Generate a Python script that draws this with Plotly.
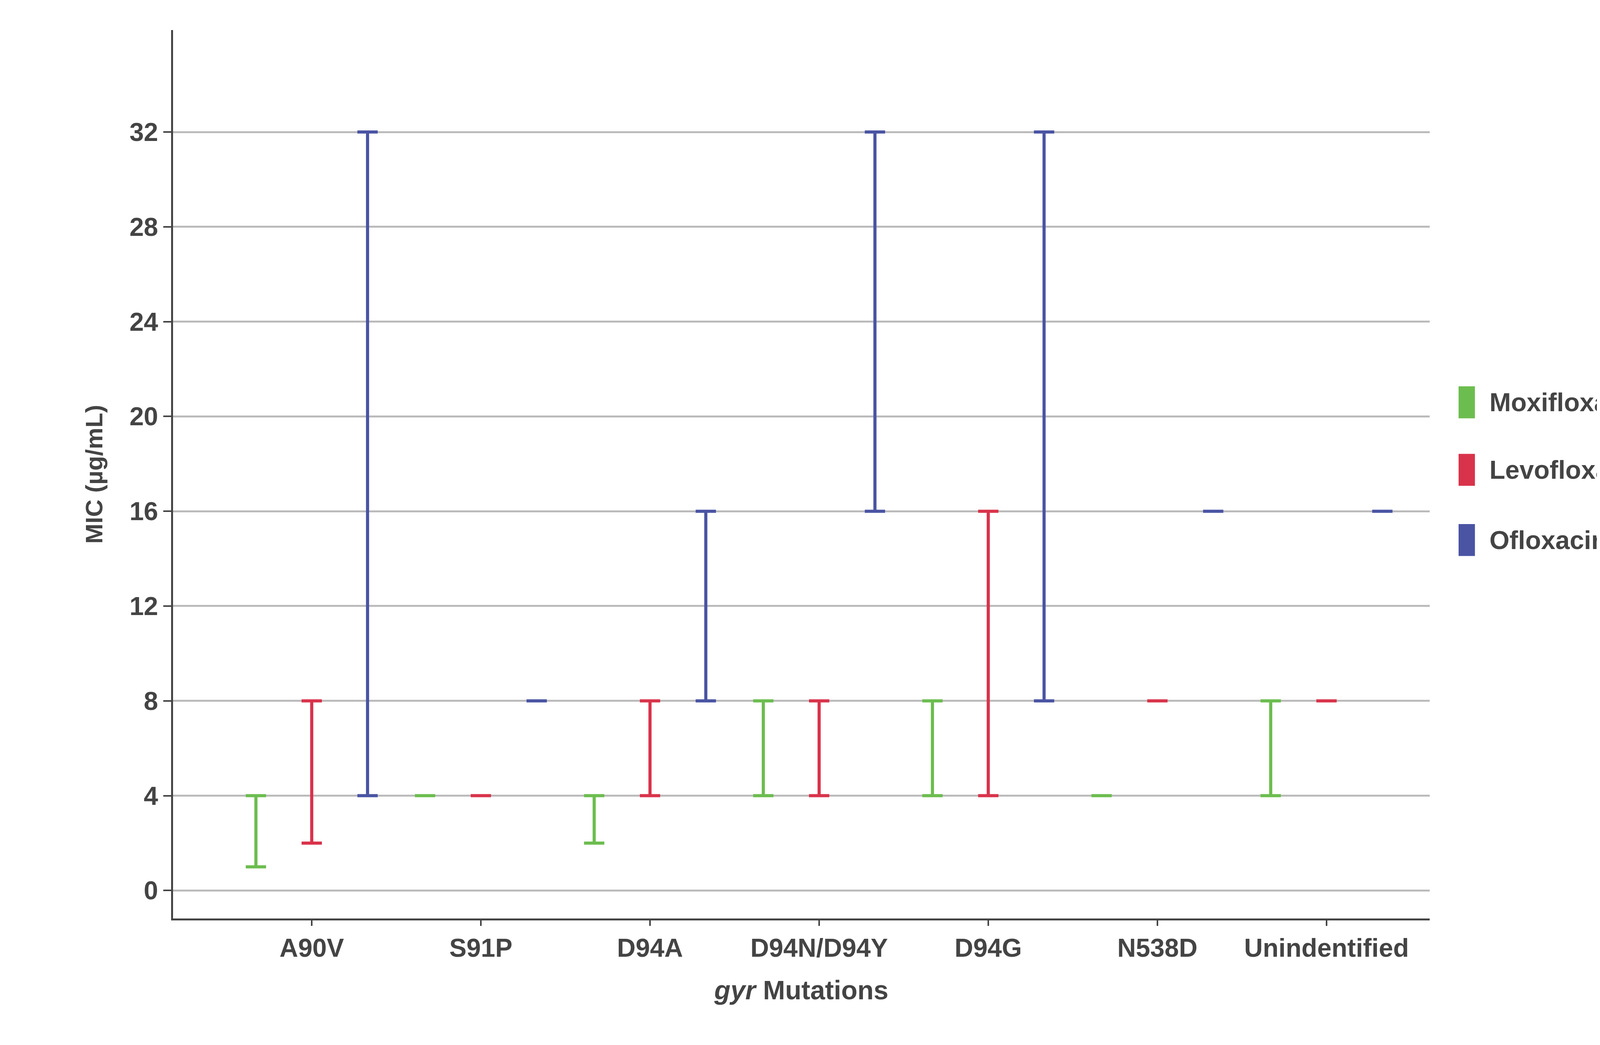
import plotly.graph_objects as go

categories = ["A90V", "S91P", "D94A", "D94N/D94Y", "D94G", "N538D", "Unindentified"]
series = ["Moxifloxacin", "Levofloxacin", "Ofloxacin"]
colors = ["#6cbd4f", "#d9334b", "#4a54a3"]
mins = {
    "Moxifloxacin": [1, 4, 2, 4, 4, 4, 4],
    "Levofloxacin": [2, 4, 4, 4, 4, 8, 8],
    "Ofloxacin":    [4, 8, 8, 16, 8, 16, 16],
}
maxs = {
    "Moxifloxacin": [4, 4, 4, 8, 8, 4, 8],
    "Levofloxacin": [8, 4, 8, 8, 16, 8, 8],
    "Ofloxacin":    [32, 8, 16, 32, 32, 16, 16],
}
offsets = [-0.33, 0.0, 0.33]
yticks = [0, 4, 8, 12, 16, 20, 24, 28, 32]
legend_y = [0.581, 0.505, 0.426]

fig = go.Figure()
for s, c, off, ly in zip(series, colors, offsets, legend_y):
    xs = [i + off for i in range(len(categories))]
    lo = mins[s]; hi = maxs[s]
    fig.add_trace(go.Scatter(
        x=xs, y=lo, mode="markers", marker=dict(size=1, color="rgba(0,0,0,0)"),
        showlegend=False, name=s, hoverinfo="skip",
        error_y=dict(type="data", symmetric=False,
                     array=[h - l for h, l in zip(hi, lo)],
                     arrayminus=[0] * len(lo), color=c, thickness=8, width=26)))
    fig.add_shape(type="rect", xref="paper", yref="paper",
                  x0=1.023, x1=1.036, y0=ly - 0.018, y1=ly + 0.018,
                  fillcolor=c, line=dict(width=0))
    fig.add_annotation(xref="paper", yref="paper", x=1.047, y=ly, xanchor="left",
                       yanchor="middle", showarrow=False, text="<b>%s</b>" % s,
                       font=dict(size=66, color="#444444"))

font = "Liberation Sans, Arial, sans-serif"
fig.update_layout(
    width=4300, height=2676, plot_bgcolor="white", paper_bgcolor="white",
    margin=dict(l=435, r=648, t=69, b=332), showlegend=False,
    font=dict(family=font, size=66, color="#444444"),
    xaxis=dict(range=[-0.82, 6.61], tickmode="array",
               tickvals=list(range(len(categories))), ticktext=["<b>%s</b>" % c for c in categories],
               showgrid=False, zeroline=False, showline=True, linecolor="#444444", linewidth=5,
               ticks="outside", ticklen=14, tickwidth=4, tickcolor="#444444",
               tickfont=dict(size=66),
               title=dict(text="<b><i>gyr</i> Mutations</b>", font=dict(size=68), standoff=50)),
    yaxis=dict(range=[-1.18, 36.3], tickmode="array", tickvals=yticks,
               ticktext=["<b>%d</b>" % v for v in yticks],
               showgrid=True, gridcolor="#bbbbbb", gridwidth=5, zeroline=False,
               showline=True, linecolor="#444444", linewidth=5,
               ticks="outside", ticklen=20, tickwidth=4, tickcolor="#444444",
               tickfont=dict(size=66),
               title=dict(text="<b>MIC (µg/mL)</b>", font=dict(size=62), standoff=50)),
)
fig.write_html("out.html")
